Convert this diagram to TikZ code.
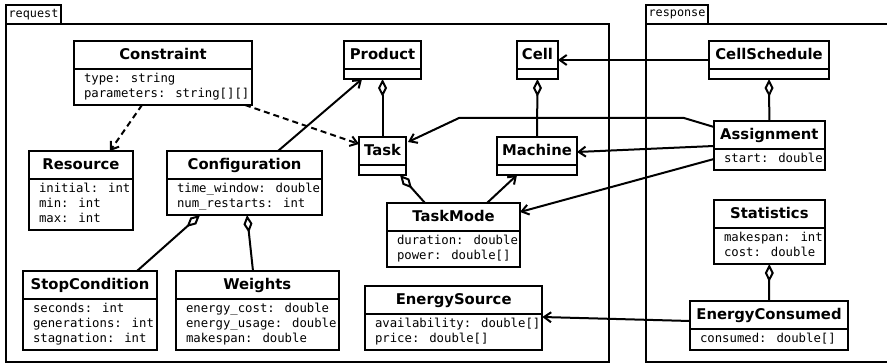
\documentclass[tikz,border=0pt]{standalone}
\usepackage{fontspec}
\usepackage{tikz}
\usetikzlibrary{arrows.meta}
\usetikzlibrary{shapes.multipart}

\newfontfamily\monofam{DejaVu Sans Mono}
\newfontfamily\sansfam{DejaVu Sans}
\newcommand{\attrfont}{\monofam\fontsize{12.3}{15}\selectfont}
\newcommand{\pkgfont}{\monofam\fontsize{11.8}{14}\selectfont}
\newcommand{\ctitle}[1]{{\sansfam\bfseries\fontsize{14.8}{17}\selectfont\rule[-6.7pt]{0pt}{22pt}#1}}
\newcommand{\attrs}[1]{\begin{tabular}{@{\hspace{8pt}}l@{}}#1\end{tabular}}
\newcommand{\noattrs}{\rule{0pt}{4pt}}

\begin{document}
\begin{tikzpicture}
  [
    x = 1pt, y = -1pt,
    line width = 2pt,
    umlclass/.style = {draw, fill = white, rectangle split, rectangle split parts = 2,
                       rectangle split part align = {center, left},
                       anchor = north west, inner xsep = 2pt, inner ysep = 2pt,
                       outer sep = 0pt, font = \attrfont},
    pkgtab/.style = {draw, anchor = south west, font = \pkgfont,
                     inner sep = 0pt, outer sep = 0pt, minimum height = 19pt},
    pkgframe/.style = {draw, anchor = north west, inner sep = 0pt, outer sep = 0pt},
    assoc/.style = {-{Straight Barb[length = 7pt, width = 10pt]}},
    dep/.style = {assoc, dash pattern = on 6pt off 4pt},
    aggr/.style = {{Diamond[open, length = 18pt, width = 9pt]}-},
  ]

  \useasboundingbox (0,0) rectangle (887,363);

  \node[pkgtab, minimum width = 55pt] (reqtab) at (6,24) {request};
  \node[pkgframe, minimum width = 603pt, minimum height = 338.5pt] (request) at (reqtab.south west) {};
  \node[pkgtab, minimum width = 62pt] (resptab) at (646,24) {response};
  \node[pkgframe, minimum width = 280pt, minimum height = 338.5pt] (response) at (resptab.south west) {};

  \node[umlclass, minimum width = 178pt] (constraint) at (74,41)
    {\ctitle{Constraint}\nodepart{two}\attrs{type: string\\parameters: string[][]}};
  \node[umlclass, minimum width = 104pt] (resource) at (29,151)
    {\ctitle{Resource}\nodepart{two}\attrs{initial: int\\min: int\\max: int}};
  \node[umlclass, minimum width = 155pt] (configuration) at (167,151)
    {\ctitle{Configuration}\nodepart{two}\attrs{time\_window: double\\num\_restarts: int}};
  \node[umlclass, minimum width = 134pt] (stopcondition) at (23,271)
    {\ctitle{StopCondition}\nodepart{two}\attrs{seconds: int\\generations: int\\stagnation: int}};
  \node[umlclass, minimum width = 161pt] (weights) at (176,271)
    {\ctitle{Weights}\nodepart{two}\attrs{energy\_cost: double\\energy\_usage: double\\makespan: double}};
  \node[umlclass, minimum width = 77pt] (product) at (344,41)
    {\ctitle{Product}\nodepart{two}\noattrs};
  \node[umlclass, minimum width = 41pt] (cell) at (517,41)
    {\ctitle{Cell}\nodepart{two}\noattrs};
  \node[umlclass, minimum width = 47pt] (task) at (359,137)
    {\ctitle{Task}\nodepart{two}\noattrs};
  \node[umlclass, minimum width = 80pt] (machine) at (497,137)
    {\ctitle{Machine}\nodepart{two}\noattrs};
  \node[umlclass, minimum width = 133pt] (taskmode) at (387,203)
    {\ctitle{TaskMode}\nodepart{two}\attrs{duration: double\\power: double[]}};
  \node[umlclass, minimum width = 177pt] (energysource) at (365,286)
    {\ctitle{EnergySource}\nodepart{two}\attrs{availability: double[]\\price: double[]}};

  \node[umlclass, minimum width = 120pt] (cellschedule) at (709,41)
    {\ctitle{CellSchedule}\nodepart{two}\noattrs};
  \node[umlclass, minimum width = 110pt] (assignment) at (714,121)
    {\ctitle{Assignment}\nodepart{two}\attrs{start: double}};
  \node[umlclass, minimum width = 110pt] (statistics) at (714,200)
    {\ctitle{Statistics}\nodepart{two}\attrs{makespan: int\\cost: double}};
  \node[umlclass, minimum width = 158pt] (energyconsumed) at (690,301)
    {\ctitle{EnergyConsumed}\nodepart{two}\attrs{consumed: double[]}};

  \draw[dep] ([xshift = -21pt]constraint.south) -- ([xshift = 29pt]resource.north);
  \draw[dep] ([xshift = -7pt]constraint.south east) -- ([shift = {(0,7)}]task.north west);
  \draw[assoc] ([xshift = 111pt]configuration.north west) -- ([xshift = 18pt]product.south west);
  \draw[aggr] ([xshift = 33pt]configuration.south west) -- ([xshift = 114pt]stopcondition.north west);
  \draw[aggr] ([xshift = 80pt]configuration.south west) -- ([xshift = 77pt]weights.north west);
  \draw[aggr] (product.south) -- (task.north);
  \draw[aggr] (cell.south) -- (machine.north);
  \draw[aggr] ([xshift = 41pt]task.south west) -- ([xshift = 38pt]taskmode.north west);
  \draw[assoc] ([xshift = 100pt]taskmode.north west) -- ([xshift = 20pt]machine.south west);

  \draw[assoc] (cellschedule.west) -- (cell.east);
  \draw[aggr] (cellschedule.south) -- (assignment.north);
  \draw[assoc] ([shift = {(0,6)}]assignment.north west) -- ++(-30,-9) -- ++(-225,0)
    -- ([shift = {(2,5)}]task.north east);
  \draw[assoc] ([shift = {(0,25)}]assignment.north west) -- ([shift = {(0,15)}]machine.north east);
  \draw[assoc] ([shift = {(0,38)}]assignment.north west) -- ([shift = {(0,9)}]taskmode.north east);
  \draw[aggr] (statistics.south) -- (energyconsumed.north);
  \draw[assoc] ([shift = {(0,20)}]energyconsumed.north west) -- ([shift = {(0,31)}]energysource.north east);

\end{tikzpicture}
\end{document}
